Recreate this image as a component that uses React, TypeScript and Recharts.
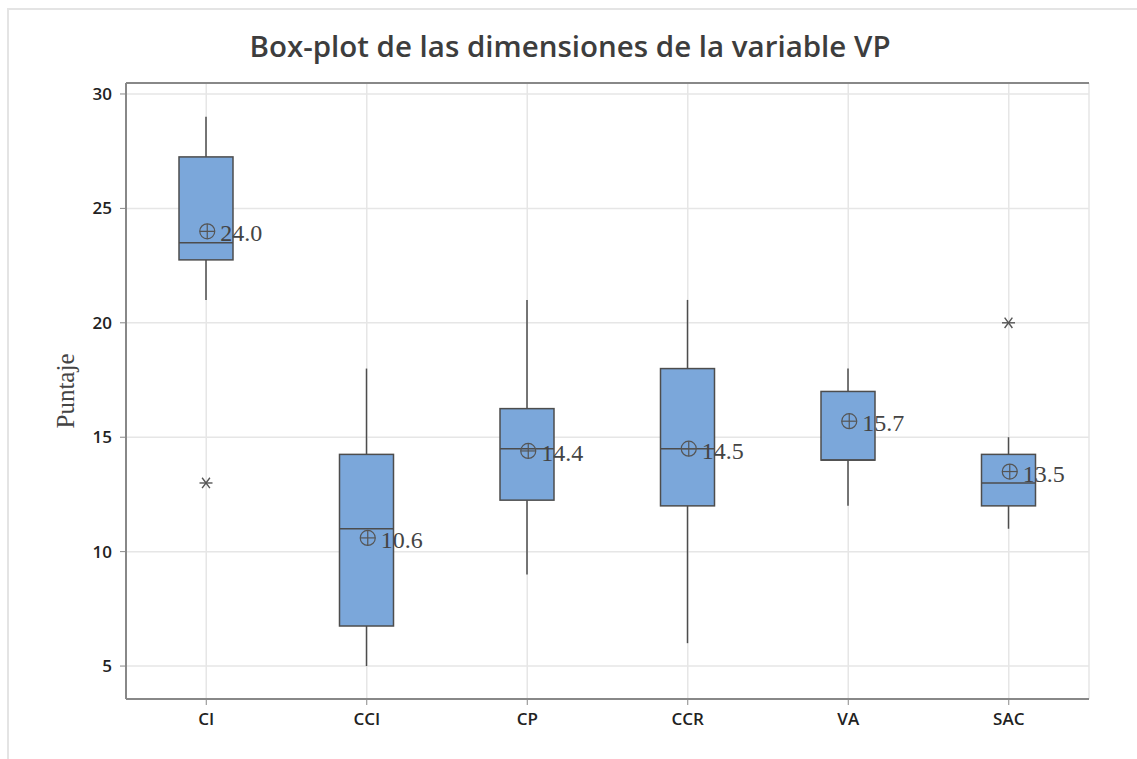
import { ComposedChart, Bar, Scatter, XAxis, YAxis, CartesianGrid } from 'recharts';

const categories = ['CI', 'CCI', 'CP', 'CCR', 'VA', 'SAC'];
const whiskerLow = [21, 5, 9, 6, 12, 11];
const q1 = [22.75, 6.75, 12.25, 12, 14, 12];
const median = [23.5, 11, 14.5, 14.5, 14, 13];
const q3 = [27.25, 14.25, 16.25, 18, 17, 14.25];
const whiskerHigh = [29, 18, 21, 21, 18, 15];
const means = [24.0, 10.6, 14.4, 14.5, 15.7, 13.5];
const outliers: number[][] = [[13], [], [], [], [], [20]];
const yTicks = [5, 10, 15, 20, 25, 30];

const data = categories.map((name, i) => ({
  name,
  low: whiskerLow[i],
  q1: q1[i],
  median: median[i],
  q3: q3[i],
  high: whiskerHigh[i],
  mean: means[i],
  outliers: outliers[i],
}));

const BOX_FILL = '#7ba7da';
const INK = '#4d4d4d';

function BoxShape(props: any) {
  const { x, y, width, height, payload } = props;
  const unit = height / (payload.q3 - payload.q1);
  const yOf = (v: number) => y + (payload.q3 - v) * unit;
  const cx = x + width / 2;
  return (
    <g>
      <line x1={cx} x2={cx} y1={yOf(payload.high)} y2={y} stroke={INK} strokeWidth={1.5} />
      <line x1={cx} x2={cx} y1={y + height} y2={yOf(payload.low)} stroke={INK} strokeWidth={1.5} />
      <rect x={x} y={y} width={width} height={height} fill={BOX_FILL} stroke={INK} strokeWidth={1.5} />
      <line x1={x} x2={x + width} y1={yOf(payload.median)} y2={yOf(payload.median)} stroke={INK} strokeWidth={1.5} />
      {payload.outliers.map((o: number, k: number) => {
        const oy = yOf(o);
        const r = 6.5;
        const dx = r * 0.6;
        const dy = r * 0.8;
        return (
          <g key={k} stroke="#555" strokeWidth={1.4}>
            <line x1={cx - r} x2={cx + r} y1={oy} y2={oy} />
            <line x1={cx - dx} x2={cx + dx} y1={oy - dy} y2={oy + dy} />
            <line x1={cx - dx} x2={cx + dx} y1={oy + dy} y2={oy - dy} />
          </g>
        );
      })}
    </g>
  );
}

function MeanShape(props: any) {
  const { cx, cy, payload } = props;
  const r = 7.5;
  return (
    <g>
      <circle cx={cx + 1} cy={cy} r={r} fill="none" stroke="#555" strokeWidth={1.2} />
      <line x1={cx + 1 - r} x2={cx + 1 + r} y1={cy} y2={cy} stroke="#555" strokeWidth={1.2} />
      <line x1={cx + 1} x2={cx + 1} y1={cy - r} y2={cy + r} stroke="#555" strokeWidth={1.2} />
      <text x={cx + 14} y={cy + 10} fontFamily="'Liberation Serif', serif" fontSize={24} fill="#444">
        {payload.mean.toFixed(1)}
      </text>
    </g>
  );
}

export default function App() {
  const tickStyle = { fontSize: 17, fill: '#222', fontFamily: "'Open Sans', sans-serif", fontWeight: 600 };
  return (
    <div style={{ position: 'absolute', left: 0, top: 0, width: 1137, height: 759, background: '#fff' }}>
      <div style={{ position: 'absolute', left: 7, top: 8, right: 0, height: 2, background: '#e4e4e4' }} />
      <div style={{ position: 'absolute', left: 7, top: 8, bottom: 0, width: 2, background: '#e4e4e4' }} />
      <div
        style={{
          position: 'absolute',
          left: 0,
          top: 25,
          width: 1140,
          textAlign: 'center',
          fontFamily: "'Open Sans', sans-serif",
          fontWeight: 600,
          fontSize: 29.5,
          color: '#3d3d3d',
        }}
      >
        Box-plot de las dimensiones de la variable VP
      </div>
      <ComposedChart
        width={1137}
        height={759}
        data={data}
        margin={{ top: 82, right: 48, left: 66, bottom: 20 }}
        style={{ position: 'absolute', left: 0, top: 0 }}
      >
        <CartesianGrid stroke="#e6e6e6" strokeWidth={1.5} />
        <XAxis
          dataKey="name"
          tick={tickStyle}
          tickSize={6}
          tickMargin={8}
          height={40}
          stroke="#888"
          axisLine={{ stroke: '#888', strokeWidth: 2 }}
          tickLine={{ stroke: '#888' }}
        />
        <XAxis
          xAxisId="top"
          orientation="top"
          dataKey="name"
          height={1}
          tick={false}
          tickLine={false}
          stroke="#888"
          axisLine={{ stroke: '#888', strokeWidth: 2 }}
        />
        <YAxis
          type="number"
          domain={[3.56, 30.48]}
          allowDataOverflow
          ticks={yTicks}
          tick={tickStyle}
          tickSize={6}
          tickMargin={8}
          width={60}
          axisLine={{ stroke: '#888', strokeWidth: 2 }}
          tickLine={{ stroke: '#888' }}
          label={{
            value: 'Puntaje',
            angle: -90,
            position: 'center',
            dx: -31,
            style: { fontFamily: "'Liberation Serif', serif", fontSize: 25, fill: '#444' },
          }}
        />
        <YAxis yAxisId="right" orientation="right" width={0} domain={[3.56, 30.48]} tick={false} tickLine={false} axisLine={{ stroke: '#888', strokeWidth: 2 }} />
        <Bar dataKey={(d: any) => [d.q1, d.q3]} barSize={54} shape={BoxShape} isAnimationActive={false} />
        <Scatter dataKey="mean" shape={MeanShape} isAnimationActive={false} />
      </ComposedChart>
    </div>
  );
}
